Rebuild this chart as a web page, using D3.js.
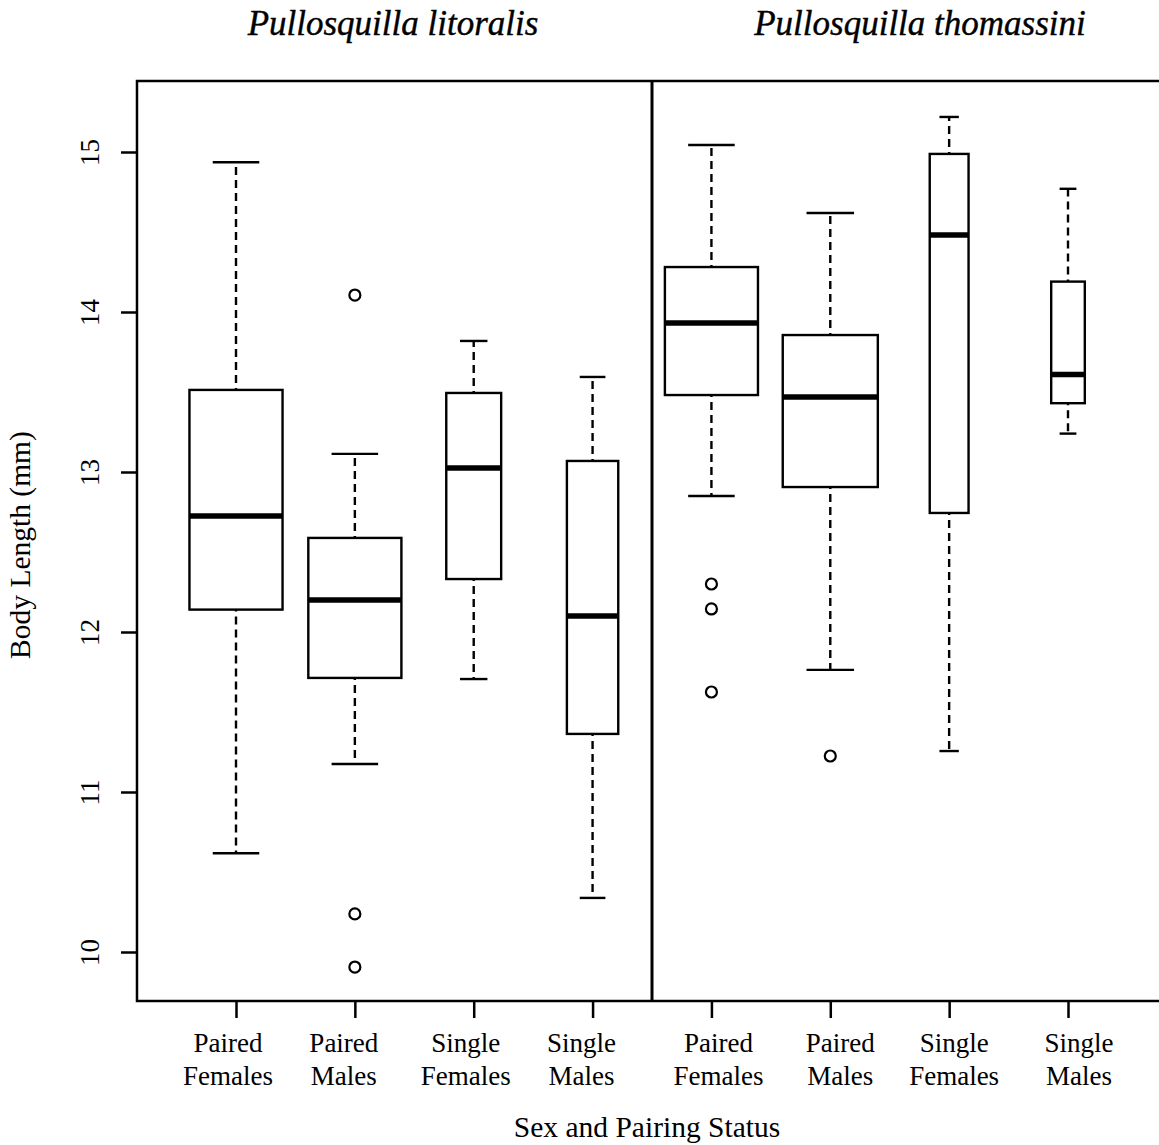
<!DOCTYPE html>
<html>
<head>
<meta charset="utf-8">
<script src="https://cdn.jsdelivr.net/npm/d3@7"></script>
<style>
  html, body { margin: 0; padding: 0; background: #fff; }
  svg { display: block; }
  text { font-family: "Liberation Serif", "Times New Roman", serif; fill: #000; }
</style>
</head>
<body>
<svg id="chart" width="1159" height="1145"></svg>
<script>
// ---- data ----
const species = ["Pullosquilla litoralis", "Pullosquilla thomassini"];
const categories = [
  "Paired Females", "Paired Males", "Single Females", "Single Males",
  "Paired Females", "Paired Males", "Single Females", "Single Males"
];
const lowerWhisker = [10.617, 11.175, 11.706, 10.338, 12.85, 11.763, 11.256, 13.24];
const lowerHinge   = [12.14, 11.713, 12.331, 11.363, 13.481, 12.906, 12.744, 13.43];
const medians      = [12.725, 12.20, 13.025, 12.10, 13.931, 13.469, 14.481, 13.61];
const upperHinge   = [13.513, 12.588, 13.494, 13.069, 14.281, 13.856, 14.988, 14.19];
const upperWhisker = [14.936, 13.113, 13.819, 13.594, 15.044, 14.619, 15.219, 14.77];
const sampleSize   = [23, 23, 8, 7, 23, 24, 4, 3];
const outliers     = [[], [14.106, 10.238, 9.906], [], [], [12.30, 12.144, 11.625], [11.225], [], []];
const yTicks = [10, 11, 12, 13, 14, 15];
const yLabel = "Body Length (mm)";
const xLabel = "Sex and Pairing Status";

// ---- layout ----
const labelShift = [-8, -11, -8, -11, 7, 10, 5, 11];
const svg = d3.select("#chart");

const x = d3.scaleLinear().domain([1, 8]).range([236, 1068]);
const y = d3.scaleLinear().domain([10, 15]).range([952, 152]);
const xMin = 0.167, xMax = 8.833;
const yTop = 81, yBottom = 1001;
const unit = x(2) - x(1);
const maxSqrt = d3.max(sampleSize, n => Math.sqrt(n));
const boxW = sampleSize.map(n => 0.8 * unit * Math.sqrt(n) / maxSqrt);

// frame
svg.append("rect")
  .attr("x", x(xMin)).attr("y", yTop)
  .attr("width", x(xMax) - x(xMin)).attr("height", yBottom - yTop)
  .attr("fill", "none").attr("stroke", "#000").attr("stroke-width", 2.5);

// divider
svg.append("line")
  .attr("x1", x(4.5)).attr("x2", x(4.5))
  .attr("y1", yTop).attr("y2", yBottom)
  .attr("stroke", "#000").attr("stroke-width", 3);

// y axis
const yAxis = d3.axisLeft(y).tickValues(yTicks).tickSize(16).tickSizeOuter(0).tickFormat(d3.format("d"));
const gy = svg.append("g").attr("transform", `translate(${x(xMin)},0)`).call(yAxis);
gy.select(".domain").remove();
gy.selectAll(".tick line").attr("stroke", "#000").attr("stroke-width", 2.5);
gy.selectAll(".tick text")
  .attr("x", null).attr("dy", null).attr("dx", null)
  .attr("text-anchor", "middle")
  .attr("transform", "translate(-38,0) rotate(-90)")
  .style("font-family", '"Liberation Serif", serif')
  .style("font-size", "27px");

// x axis ticks
const xAxis = d3.axisBottom(x).tickValues(d3.range(1, 9)).tickSize(17).tickSizeOuter(0).tickFormat("");
const gx = svg.append("g").attr("transform", `translate(0,${yBottom})`).call(xAxis);
gx.select(".domain").remove();
gx.selectAll(".tick line").attr("stroke", "#000").attr("stroke-width", 2.5);

// x tick labels (two lines)
categories.forEach((c, i) => {
  const parts = c.split(" ");
  const t = svg.append("text")
    .attr("text-anchor", "middle")
    .style("font-size", "27px");
  parts.forEach((p, j) => {
    t.append("tspan")
      .attr("x", x(i + 1) + labelShift[i])
      .attr("y", 1052 + j * 33)
      .text(p);
  });
});

// axis titles
svg.append("text")
  .attr("text-anchor", "middle")
  .attr("transform", `translate(30,${(yTop + yBottom) / 2 + 4}) rotate(-90)`)
  .style("font-size", "29.5px")
  .text(yLabel);

svg.append("text")
  .attr("x", 647).attr("y", 1137)
  .attr("text-anchor", "middle")
  .style("font-size", "29.5px")
  .text(xLabel);

// species titles
const titlePos = [2.5 + (393 - x(2.5)) / unit, 1 + (920 - x(1)) / unit];
species.forEach((s, i) => {
  svg.append("text")
    .attr("x", x(titlePos[i])).attr("y", 35)
    .attr("text-anchor", "middle")
    .style("font-size", "35px")
    .style("font-style", "italic")
    .attr("stroke", "#000").attr("stroke-width", 0.4)
    .text(s);
});

// boxes
const g = svg.append("g");
d3.range(8).forEach(i => {
  const cx = x(i + 1), w = boxW[i], cw = w / 2;
  // whiskers
  [[upperHinge[i], upperWhisker[i]], [lowerHinge[i], lowerWhisker[i]]].forEach(([a, b]) => {
    g.append("line")
      .attr("x1", cx).attr("x2", cx).attr("y1", y(a)).attr("y2", y(b))
      .attr("stroke", "#000").attr("stroke-width", 2.4)
      .attr("stroke-dasharray", "8,5").attr("stroke-dashoffset", -7);
    g.append("line")
      .attr("x1", cx - cw / 2).attr("x2", cx + cw / 2).attr("y1", y(b)).attr("y2", y(b))
      .attr("stroke", "#000").attr("stroke-width", 2.4);
  });
  // box
  g.append("rect")
    .attr("x", cx - w / 2).attr("y", y(upperHinge[i]))
    .attr("width", w).attr("height", y(lowerHinge[i]) - y(upperHinge[i]))
    .attr("fill", "#fff").attr("stroke", "#000").attr("stroke-width", 2.4);
  // median
  g.append("line")
    .attr("x1", cx - w / 2).attr("x2", cx + w / 2)
    .attr("y1", y(medians[i])).attr("y2", y(medians[i]))
    .attr("stroke", "#000").attr("stroke-width", 5.5);
  // outliers
  outliers[i].forEach(o => {
    g.append("circle")
      .attr("cx", cx).attr("cy", y(o)).attr("r", 5.5)
      .attr("fill", "none").attr("stroke", "#000").attr("stroke-width", 2.2);
  });
});
</script>
</body>
</html>
